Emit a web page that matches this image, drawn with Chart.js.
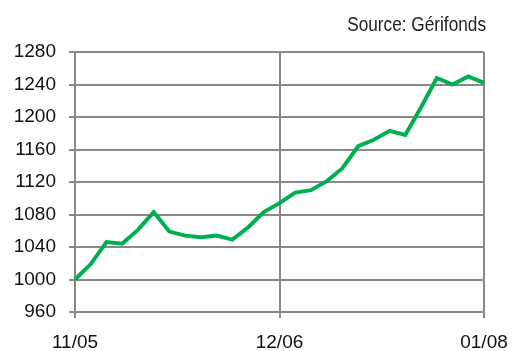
<!DOCTYPE html>
<html>
<head>
<meta charset="utf-8">
<script src="https://cdn.jsdelivr.net/npm/chart.js@4.4.1/dist/chart.umd.min.js"></script>
<style>
  html, body { margin: 0; padding: 0; background: #fff; }
  #wrap { width: 512px; height: 351px; position: relative; }
</style>
</head>
<body>
<div id="wrap"><canvas id="fondsChart"></canvas></div>
<script>
// Indice mensuel, novembre 2005 -> janvier 2008
const mois = ['11/05', '12/05', '01/06', '02/06', '03/06', '04/06', '05/06', '06/06', '07/06',
    '08/06', '09/06', '10/06', '11/06', '12/06', '01/07', '02/07', '03/07', '04/07', '05/07',
    '06/07', '07/07', '08/07', '09/07', '10/07', '11/07', '12/07', '01/08'];
const indice = [1000, 1019, 1046, 1044, 1061, 1083, 1059, 1054, 1052, 1054, 1049, 1064, 1083,
    1094, 1107, 1110, 1121, 1137, 1164, 1172, 1183, 1178, 1212, 1248, 1240, 1250, 1242];
const moisAffiches = ['11/05', '12/06', '01/08'];
const graduationsY = [960, 1000, 1040, 1080, 1120, 1160, 1200, 1240, 1280];
const source = 'Source: Gérifonds';

const gris = '#898989';
const police = '"Liberation Sans", Arial, sans-serif';

// texte de la source en haut à droite, en police étroite
const sourcePlugin = {
    id: 'sourceText',
    afterDraw(chart) {
        const c = chart.ctx;
        c.save();
        c.font = '21px ' + police;
        c.fillStyle = '#222';
        c.textAlign = 'right';
        c.textBaseline = 'alphabetic';
        c.translate(486, 31);
        c.scale(0.82, 1);
        c.fillText(source, 0, 0);
        c.restore();
    }
};

const ctx = document.getElementById('fondsChart').getContext('2d');
new Chart(ctx, {
    type: 'line',
    data: {
        labels: mois,
        datasets: [{
            data: indice,
            borderColor: '#00b050',
            borderWidth: 4,
            pointRadius: 0,
            tension: 0,
            fill: false
        }]
    },
    options: {
        responsive: true,
        maintainAspectRatio: false,
        animation: false,
        layout: { padding: { top: 52, right: 28, left: 0, bottom: 0 } },
        plugins: {
            legend: { display: false },
            tooltip: { enabled: false }
        },
        scales: {
            x: {
                offset: false,
                grid: {
                    color: (c) => moisAffiches.includes(mois[c.index]) ? gris : 'rgba(0,0,0,0)',
                    lineWidth: 2,
                    tickLength: 6
                },
                border: { display: false },
                ticks: {
                    autoSkip: false,
                    maxRotation: 0,
                    padding: 13,
                    color: '#111',
                    font: { family: police, size: 19 },
                    callback: (v, i) => moisAffiches.includes(mois[i]) ? mois[i] : ''
                },
                afterFit: (s) => {
                    s.height = 39;
                    s.paddingLeft = 0;
                    s.paddingRight = 0;
                }
            },
            y: {
                min: 960,
                max: 1280,
                afterBuildTicks: (s) => { s.ticks = graduationsY.map(v => ({ value: v })); },
                grid: { color: gris, lineWidth: 2, tickLength: 6 },
                border: { color: gris, width: 2 },
                ticks: {
                    padding: 13,
                    color: '#111',
                    font: { family: police, size: 19 },
                    callback: (v) => String(v)
                },
                afterFit: (s) => {
                    s.width = 75;
                    s.paddingTop = 0;
                    s.paddingBottom = 0;
                }
            }
        }
    },
    plugins: [sourcePlugin]
});
</script>
</body>
</html>
